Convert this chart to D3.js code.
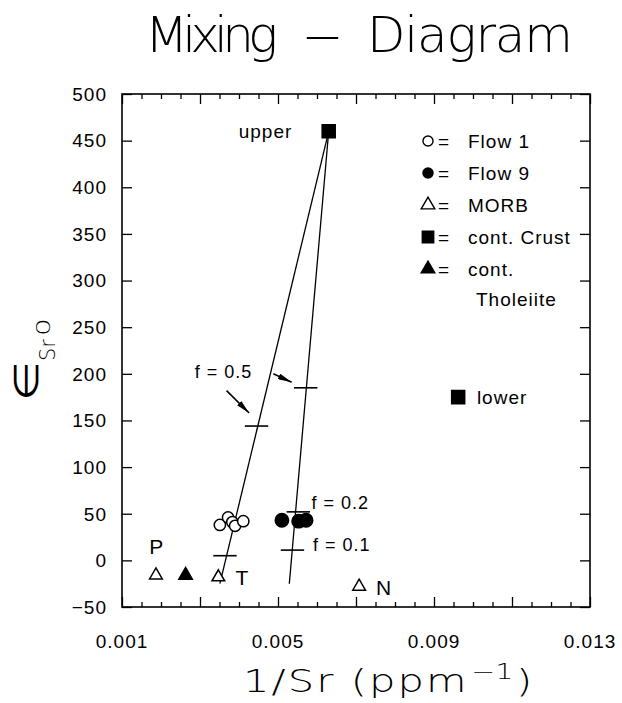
<!DOCTYPE html>
<html>
<head>
<meta charset="utf-8">
<script src="https://cdn.jsdelivr.net/npm/d3@7"></script>
<style>
    body { margin: 0; background: #fff; }
    svg { display: block; }
    .lbl { font-family: "Liberation Sans", Arial, sans-serif; letter-spacing: 1px; fill: #000; }
    .thin { font-family: "DejaVu Sans", sans-serif; font-weight: 200; fill: #000; }
</style>
</head>
<body>
<div id="chart"></div>
<script>
// values: [1/Sr, eps Sr]
const flow1 = [[0.00351, 38], [0.00372, 46], [0.00383, 41], [0.0039, 37], [0.00411, 42]];
const flow9 = [[0.0051, 43], [0.00553, 42], [0.00572, 43]];
const morb = [[0.00187, -16], [0.00347, -18], [0.00708, -28]];
const contTholeiite = [[0.00263, -16]];
const contCrust = [[0.0063, 460], [0.00962, 175]];

// mixing lines from upper crust down to the basalt end
const mixLines = [
    [[0.0063, 460], [0.00351, -25]],
    [[0.0063, 460], [0.00529, -25]]
];
// f marks on the lines
const fMarks = [[0.00445, 144], [0.00364, 5], [0.00571, 185], [0.00552, 52], [0.00537, 11]];
const arrows = [
    [[0.00368, 182], [0.00426, 158]],
    [[0.00488, 200], [0.00535, 191]]
];

const notes = [
    { text: "f = 0.5", x: 0.0036, y: 202, anchor: "middle", size: 18 },
    { text: "f = 0.2", x: 0.00586, y: 62, anchor: "start", size: 18 },
    { text: "f = 0.1", x: 0.0059, y: 17, anchor: "start", size: 18 },
    { text: "upper", x: 0.00468, y: 460, anchor: "middle", size: 19 },
    { text: "lower", x: 0.0101, y: 175, anchor: "start", size: 19 },
    { text: "P", x: 0.00189, y: 15, anchor: "middle", size: 21 },
    { text: "T", x: 0.00409, y: -18, anchor: "middle", size: 21 },
    { text: "N", x: 0.00772, y: -29, anchor: "middle", size: 21 }
];

const xTickLabels = [0.001, 0.005, 0.009, 0.013];
const yTickLabels = [-50, 0, 50, 100, 150, 200, 250, 300, 350, 400, 450, 500];

const legendItems = [
    { sym: "circleOpen", text: ["Flow 1"] },
    { sym: "circle", text: ["Flow 9"] },
    { sym: "triOpen", text: ["MORB"] },
    { sym: "square", text: ["cont. Crust"] },
    { sym: "tri", text: ["cont.", "Tholeiite"] }
];

const W = 622, H = 703;
const margin = { top: 94, left: 122 },
    width = 468,
    height = 513;

const svg = d3.select("#chart").append("svg")
    .attr("width", W)
    .attr("height", H);

const x = d3.scaleLinear().domain([0.001, 0.013]).range([margin.left, margin.left + width]);
const y = d3.scaleLinear().domain([-50, 500]).range([margin.top + height, margin.top]);

// title, pieces spaced like the plotter font
const titleParts = [
    { t: "Mixing", x: 145, len: 133 },
    { t: "\u2013", x: 303, len: 39 },
    { t: "Diagram", x: 367, len: 206 }
];
svg.append("g").selectAll("text")
    .data(titleParts).enter().append("text")
    .attr("class", "thin")
    .attr("x", d => d.x).attr("y", 52)
    .attr("font-size", 50)
    .attr("textLength", d => d.len)
    .attr("lengthAdjust", d => d.t.length > 1 ? "spacing" : "spacingAndGlyphs")
    .text(d => d.t);

// frame
svg.append("rect")
    .attr("x", margin.left).attr("y", margin.top)
    .attr("width", width).attr("height", height)
    .attr("fill", "none").attr("stroke", "#000").attr("stroke-width", 1.6);

// axes with inward ticks
const xMinor = d3.range(0.001, 0.01301, 0.0005);
const isMajor = v => Math.abs(((v - 0.001) / 0.002) - Math.round((v - 0.001) / 0.002)) < 1e-6;

const gx = svg.append("g").attr("transform", `translate(0,${margin.top + height})`)
    .call(d3.axisBottom(x).tickValues(xMinor).tickSize(0).tickFormat(""));
gx.select(".domain").remove();
gx.selectAll(".tick line").attr("y2", d => isMajor(d) ? -10 : -5).attr("stroke-width", 1.3);

const gxt = svg.append("g").attr("transform", `translate(0,${margin.top})`)
    .call(d3.axisTop(x).tickValues(xMinor).tickSize(0).tickFormat(""));
gxt.select(".domain").remove();
gxt.selectAll(".tick line").attr("y2", d => isMajor(d) ? 10 : 5).attr("stroke-width", 1.3);

const gy = svg.append("g").attr("transform", `translate(${margin.left},0)`)
    .call(d3.axisLeft(y).tickValues(yTickLabels).tickSize(0).tickFormat(""));
gy.select(".domain").remove();
gy.selectAll(".tick line").attr("x2", 10).attr("stroke-width", 1.3);

const gyr = svg.append("g").attr("transform", `translate(${margin.left + width},0)`)
    .call(d3.axisRight(y).tickValues(yTickLabels).tickSize(0).tickFormat(""));
gyr.select(".domain").remove();
gyr.selectAll(".tick line").attr("x2", -10).attr("stroke-width", 1.3);

// tick labels
svg.append("g").selectAll("text")
    .data(xTickLabels).enter().append("text")
    .attr("class", "lbl")
    .attr("x", d => x(d)).attr("y", margin.top + height + 41)
    .attr("text-anchor", "middle")
    .attr("font-size", 19)
    .text(d => d3.format(".3f")(d));

svg.append("g").selectAll("text")
    .data(yTickLabels).enter().append("text")
    .attr("class", "lbl")
    .attr("x", 107).attr("y", d => y(d))
    .attr("dy", "0.36em")
    .attr("text-anchor", "end")
    .attr("font-size", 19)
    .text(d => d < 0 ? "\u2212" + Math.abs(d) : d);

// axis titles (plotter font is wide, so stretch a bit)
const xt = svg.append("text")
    .attr("class", "thin")
    .attr("transform", "translate(243,692) scale(1.3,1)")
    .attr("font-size", 32);
xt.append("tspan").attr("textLength", 172).attr("lengthAdjust", "spacing").text("1/Sr (ppm");
xt.append("tspan").attr("dy", -13).attr("font-size", 22).attr("dx", 2).text("\u22121");
xt.append("tspan").attr("dy", 13).attr("dx", 2).text(")");

svg.append("text").attr("class", "thin")
    .attr("transform", "translate(38,401) rotate(-90) scale(1.35,1)")
    .attr("font-size", 34)
    .text("\u2208");
svg.append("text").attr("class", "thin")
    .attr("transform", "translate(55,361) rotate(-90)")
    .attr("font-size", 21)
    .text("Sr");
svg.append("text").attr("class", "thin")
    .attr("transform", "translate(50,336) rotate(-90) scale(1.4,1)")
    .attr("font-size", 20)
    .text("0");

// mixing lines
const line = d3.line().x(d => x(d[0])).y(d => y(d[1]));
svg.append("g").selectAll("path")
    .data(mixLines).enter().append("path")
    .attr("d", line)
    .attr("fill", "none").attr("stroke", "#000").attr("stroke-width", 1.3);

svg.append("g").selectAll("line")
    .data(fMarks).enter().append("line")
    .attr("x1", d => x(d[0] - 0.0003)).attr("x2", d => x(d[0] + 0.0003))
    .attr("y1", d => y(d[1])).attr("y2", d => y(d[1]))
    .attr("stroke", "#000").attr("stroke-width", 1.6);

// arrows
svg.append("defs").append("marker")
    .attr("id", "head")
    .attr("viewBox", "0 0 14 6")
    .attr("refX", 14).attr("refY", 3)
    .attr("markerWidth", 14).attr("markerHeight", 6)
    .attr("markerUnits", "userSpaceOnUse")
    .attr("orient", "auto")
    .append("path").attr("d", "M0,0L14,3L0,6Z").attr("fill", "#000");

svg.append("g").selectAll("path")
    .data(arrows).enter().append("path")
    .attr("d", line)
    .attr("stroke", "#000").attr("stroke-width", 1.6)
    .attr("marker-end", "url(#head)");

// symbols
const sym = {
    circleOpen: d3.symbol().type(d3.symbolCircle).size(100),
    circle: d3.symbol().type(d3.symbolCircle).size(140),
    triOpen: d3.symbol().type(d3.symbolTriangle).size(70),
    tri: d3.symbol().type(d3.symbolTriangle).size(80),
    square: d3.symbol().type(d3.symbolSquare).size(170)
};
const filled = { circleOpen: false, circle: true, triOpen: false, tri: true, square: true };

function drawPoints(data, kind) {
    svg.append("g").selectAll("path")
        .data(data).enter().append("path")
        .attr("transform", d => `translate(${x(d[0])},${y(d[1])})`)
        .attr("d", sym[kind]())
        .attr("fill", filled[kind] ? "#000" : "#fff")
        .attr("stroke", "#000").attr("stroke-width", 1.5);
}
drawPoints(contCrust, "square");
drawPoints(flow9, "circle");
drawPoints(flow1, "circleOpen");
drawPoints(morb, "triOpen");
drawPoints(contTholeiite, "tri");

// notes
svg.append("g").selectAll("text")
    .data(notes).enter().append("text")
    .attr("class", "lbl")
    .attr("x", d => x(d.x)).attr("y", d => y(d.y))
    .attr("dy", "0.36em")
    .attr("text-anchor", d => d.anchor)
    .attr("font-size", d => d.size)
    .text(d => d.text);

// legend
const lg = svg.append("g").attr("transform", "translate(428,141)");
const rows = lg.selectAll("g")
    .data(legendItems).enter().append("g")
    .attr("transform", (d, i) => `translate(0,${i * 32})`);
rows.append("path")
    .attr("d", d => d3.symbol().type(d.sym.startsWith("circle") ? d3.symbolCircle :
        d.sym.startsWith("tri") ? d3.symbolTriangle : d3.symbolSquare).size(d.sym === "square" ? 130 : 80)())
    .attr("fill", d => filled[d.sym] ? "#000" : "#fff")
    .attr("stroke", "#000").attr("stroke-width", 1.4);
rows.append("text")
    .attr("class", "lbl")
    .attr("x", 10).attr("dy", "0.36em")
    .attr("font-size", 19)
    .text("=");
rows.each(function (d) {
    d3.select(this).selectAll("text.item")
        .data(d.text).enter().append("text")
        .attr("class", "lbl item")
        .attr("x", (t, j) => j ? 48 : 40)
        .attr("y", (t, j) => j * 30)
        .attr("dy", "0.36em")
        .attr("font-size", 19)
        .text(t => t);
});
</script>
</body>
</html>
